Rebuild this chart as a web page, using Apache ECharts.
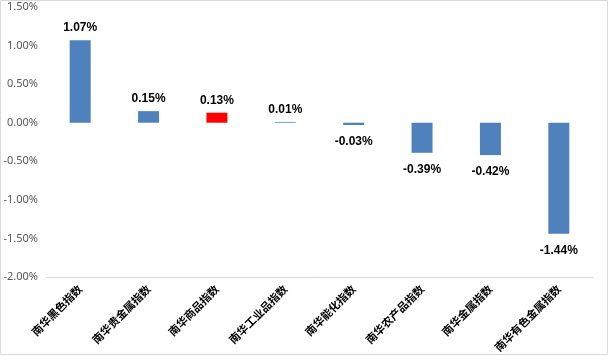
<!DOCTYPE html>
<html><head><meta charset="utf-8">
<script src="https://cdn.jsdelivr.net/npm/echarts@6/dist/echarts.min.js"></script>
<style>html,body{margin:0;padding:0;background:#fff}#c{width:613px;height:356px}</style>
</head><body><div id="c"></div>
<script>
const categories = ['南华黑色指数','南华贵金属指数','南华商品指数','南华工业品指数','南华能化指数','南华农产品指数','南华金属指数','南华有色金属指数'];
const values = [1.07, 0.15, 0.13, 0.01, -0.03, -0.39, -0.42, -1.44];
const highlightIndex = 2;
const yMin = -2.0, yMax = 1.5, yStep = 0.5;

const chart = echarts.init(document.getElementById('c'));
chart.setOption({
  animation: false,
  backgroundColor: '#ffffff',
  graphic: [{type:'rect', shape:{x:0.5,y:0.5,width:607,height:354}, style:{fill:'none', stroke:'#d9d9d9', lineWidth:1}, silent:true}],
  grid: {left: 46, right: 20, top: 7, bottom: 79},
  xAxis: [{
    type: 'category', data: categories, position: 'bottom',
    axisLine: {show: false}, axisTick: {show: false},
    axisLabel: {interval: 0, rotate: 45, margin: 10, color: '#000', fontWeight: 'bold', fontSize: 11, fontFamily: 'Noto Sans CJK SC'}
  }, {
    type: 'category', data: categories, position: 'bottom',
    axisLine: {show: true, onZero: true, lineStyle: {color: '#d9d9d9', width: 1}},
    axisTick: {show: false}, axisLabel: {show: false}
  }],
  yAxis: {
    type: 'value', min: yMin, max: yMax, interval: yStep,
    axisLine: {show: false}, axisTick: {show: false}, splitLine: {show: false},
    axisLabel: {color: '#595959', fontSize: 11, fontFamily: 'Noto Sans', margin: 8,
      formatter: v => v.toFixed(2) + '%'}
  },
  series: [{
    type: 'bar', xAxisIndex: 0, barWidth: 21,
    data: values.map((v, i) => ({
      value: v,
      itemStyle: {color: i === highlightIndex ? '#ff0000' : '#4f81bd'},
      label: v >= 0 ? {position: 'top', distance: 6} : {position: 'bottom', distance: 11}
    })),
    label: {show: true, color: '#000', fontWeight: 'bold', fontSize: 12, fontFamily: 'Liberation Sans',
      formatter: p => p.value.toFixed(2) + '%'}
  }]
});
</script></body></html>
